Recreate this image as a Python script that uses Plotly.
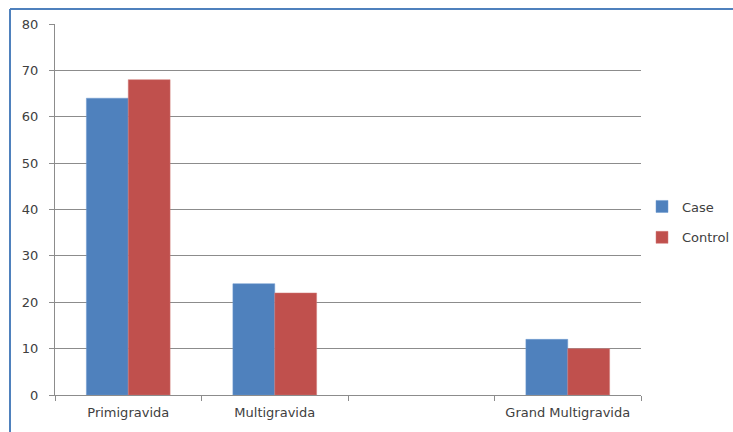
import plotly.graph_objects as go

categories = ["Primigravida", "Multigravida", " ", "Grand Multigravida"]
case_values = [64, 24, None, 12]
control_values = [68, 22, None, 10]
y_ticks = [0, 10, 20, 30, 40, 50, 60, 70, 80]

W, H = 733, 432
ml, mr, mt, mb = 55, 733 - 641, 24, 432 - 395
pw = W - ml - mr
ph = H - mt - mb

fig = go.Figure()
fig.add_trace(go.Bar(name="Case", x=categories, y=case_values,
                     marker=dict(color="#4f81bd", line=dict(color="#6f9ad0", width=0.5)),
                     legendgroup="a"))
fig.add_trace(go.Bar(name="Control", x=categories, y=control_values,
                     marker=dict(color="#c0504d", line=dict(color="#d07a78", width=0.5)),
                     legendgroup="b"))

FAM = "DejaVu Sans, sans-serif"
TXT = "#404040"

bx = (10 - ml) / pw
by = 1 + (mt - 9) / ph
border = dict(color="#4f81bd", width=2)

fig.update_layout(
    width=W, height=H,
    margin=dict(l=ml, r=mr, t=mt, b=mb, pad=0, autoexpand=False),
    paper_bgcolor="white", plot_bgcolor="white",
    barmode="group", bargap=0.4286, bargroupgap=0,
    font=dict(family=FAM, size=13, color=TXT),
    showlegend=True,
    legend=dict(x=(642 - ml) / pw, xanchor="left", y=(395 - 222) / ph, yanchor="middle",
                bgcolor="rgba(0,0,0,0)", font=dict(family=FAM, size=13, color=TXT),
                tracegroupgap=11, traceorder="grouped"),
    xaxis=dict(type="category", categoryorder="array", categoryarray=categories,
               tickson="boundaries", ticks="outside", ticklen=5, tickcolor="#8c8c8c",
               showline=True, linecolor="#8c8c8c", linewidth=1, showgrid=False,
               ticklabelstandoff=5, automargin=False,
               tickfont=dict(family=FAM, size=13, color=TXT), fixedrange=True),
    yaxis=dict(range=[0, 80], tickvals=y_ticks, ticks="outside", ticklen=5,
               tickcolor="#8c8c8c", showline=True, linecolor="#8c8c8c", linewidth=1,
               showgrid=True, gridcolor="#8c8c8c", gridwidth=1, zeroline=False,
               ticklabelstandoff=8, automargin=False,
               tickfont=dict(family=FAM, size=13, color=TXT), fixedrange=True),
    shapes=[
        dict(type="line", xref="paper", yref="paper", x0=bx, x1=1.2, y0=by, y1=by,
             line=border, layer="below"),
        dict(type="line", xref="paper", yref="paper", x0=bx, x1=bx, y0=-0.2, y1=by,
             line=border, layer="below"),
    ],
)

fig.write_html("out.html", config=dict(displayModeBar=False),
               post_script="document.body.style.margin='0';document.body.style.overflow='hidden';")
